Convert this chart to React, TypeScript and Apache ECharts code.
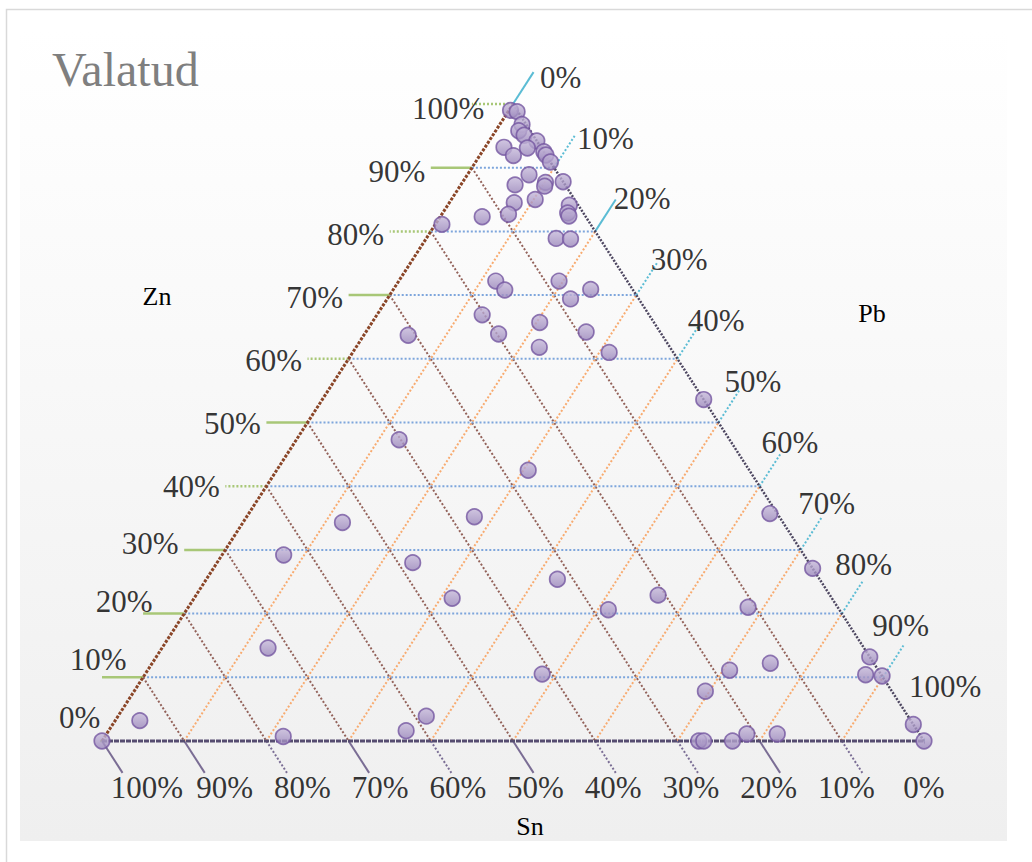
import React, { useEffect, useRef } from "react";
import * as echarts from "echarts";

// Composition of the cast samples, in percent (Zn + Pb + Sn = 100)
const zn = [
  99.0, 98.8, 96.8, 95.8, 95.1, 94.2, 93.2, 93.1, 91.9, 92.5, 92.0, 90.9, 88.9, 87.8, 87.7, 87.1,
  87.3, 85.0, 84.5, 84.1, 82.9, 82.4, 82.7, 82.3, 81.1, 78.9, 78.8, 72.2, 70.8, 72.2, 70.9, 69.4,
  66.9, 65.7, 63.9, 63.7, 64.2, 61.8, 61.0, 53.6, 47.3, 42.5, 35.2, 34.3, 35.7, 29.2, 28.0, 27.1,
  25.4, 22.4, 22.9, 20.6, 21.0, 14.6, 13.2, 12.2, 11.1, 10.4, 10.2, 10.5, 7.8, 3.2, 3.9, 1.6,
  2.6, 0, 0.7, 0, 0, 0, 1.1, 1.1, 0,
];
const pb = [
  0.2, 1.1, 2.7, 2.8, 3.8, 5.8, 2.3, 5.2, 4.1, 7.5, 8.0, 9.1, 7.5, 12.2, 10.1, 10.3,
  6.6, 10.2, 7.9, 14.8, 15.2, 15.6, 8.1, 5.1, 0.8, 15.8, 17.6, 11.8, 13.6, 19.5, 24.0, 22.3,
  12.8, 20.4, 16.3, 5.4, 26.8, 22.3, 31.2, 46.4, 12.5, 30.6, 27.7, 12.1, 63.4, 7.5, 23.8, 72.9,
  42.7, 31.4, 56.2, 51.3, 68.1, 12.9, 86.8, 75.2, 70.8, 87.7, 89.8, 48.3, 69.5, 3.0, 37.5, 36.2,
  97.4, 0, 21.7, 72.6, 73.2, 76.7, 77.9, 81.6, 100,
];
const sn = [
  0.8, 0.1, 0.5, 1.4, 1.1, 0, 4.5, 1.7, 4.0, 0, 0, 0, 3.6, 0, 2.2, 2.6,
  6.1, 4.8, 7.6, 1.1, 1.9, 2.0, 9.2, 12.6, 18.1, 5.3, 3.6, 16.0, 15.6, 8.3, 5.1, 8.3,
  20.3, 13.9, 19.8, 30.9, 9.0, 15.9, 7.8, 0, 40.2, 26.9, 37.1, 53.6, 0.9, 63.3, 48.2, 0,
  31.9, 46.2, 20.9, 28.1, 10.9, 72.5, 0, 12.6, 18.1, 1.9, 0, 41.2, 22.7, 93.8, 58.6, 62.2,
  0, 100, 77.6, 27.4, 26.8, 23.3, 21.0, 17.3, 0,
];

const tickValues = [0, 10, 20, 30, 40, 50, 60, 70, 80, 90, 100];
const gridValues = [10, 20, 30, 40, 50, 60, 70, 80, 90];

const SERIF = "'Liberation Serif', 'DejaVu Serif', serif";

// ternary (Zn, Pb) -> cartesian plane: x = Pb + Zn / 2, y = Zn
const toXY = (z: number, p: number): [number, number] => [p + z / 2, z];

type Dash = number[] | "solid";

function seg(a: [number, number], b: [number, number], color: string, width: number, dash: Dash, z = 1) {
  return {
    type: "line",
    data: [a, b],
    symbol: "none",
    silent: true,
    clip: false,
    z,
    lineStyle: { color, width, type: dash },
  };
}

function labelSeries(items: any[], fontSize: number) {
  return {
    type: "scatter",
    symbolSize: 1,
    clip: false,
    silent: true,
    z: 6,
    itemStyle: { color: "rgba(0,0,0,0)" },
    label: { show: true, color: "#000", fontFamily: SERIF, fontSize },
    data: items,
  };
}

export default function App() {
  const ref = useRef<HTMLDivElement>(null);

  useEffect(() => {
    if (!ref.current) return;
    const chart = echarts.init(ref.current, null, { renderer: "svg" });

    const DOT: number[] = [2, 2];
    const series: any[] = [];

    // interior grid
    gridValues.forEach((v) => {
      series.push(seg(toXY(v, 0), toXY(v, 100 - v), "#7ea6dc", 2, DOT));
      series.push(seg(toXY(0, v), toXY(100 - v, v), "#f8ab70", 2, DOT));
      series.push(seg(toXY(100 - v, 0), toXY(0, 100 - v), "#93625a", 2, DOT));
    });

    // triangle edges
    series.push(seg(toXY(0, 0), toXY(100, 0), "#8a4527", 3, [3, 1.5], 2));
    series.push(seg(toXY(0, 0), toXY(0, 100), "#564d70", 3, [5, 1], 2));
    series.push(seg(toXY(0, 100), toXY(100, 0), "#4d4660", 2.5, [2, 1.5], 2));

    // tick stubs
    const znSolid = [10, 20, 30, 50, 70, 90];
    const pbSolid = [0, 20, 100];
    const snSolid = [100, 90, 70, 50, 20, 0];
    tickValues.forEach((v) => {
      series.push(
        seg(toXY(v, 0), [v / 2 - 5, v], "#a8c777", 2.5, znSolid.includes(v) ? "solid" : DOT)
      );
      series.push(
        seg(toXY(100 - v, v), toXY(105 - v, v), "#5bbcd4", 2, pbSolid.includes(v) ? "solid" : DOT)
      );
      series.push(
        seg(toXY(0, 100 - v), toXY(-5, 105 - v), "#7a6d94", 2, snSolid.includes(v) ? "solid" : DOT)
      );
    });

    // tick labels
    const znLabels = tickValues.map((v) => ({
      value: [v / 2 - 5, v],
      label: {
        position: "left",
        distance: 5,
        formatter: v + "%",
        offset: [
          v <= 30 ? (30 - v) * 1.5 : v > 90 ? (v - 90) * 1.8 : 0,
          v < 40 ? -0.6 * (40 - v) : 0.08 * (v - 40),
        ],
      },
    }));
    const pbLabels = tickValues.map((v, k) => ({
      value: toXY(105 - v, v),
      label: {
        position: "right",
        distance: 0,
        formatter: v + "%",
        offset: [6 - 4.2 * k, 5 - 2.8 * k],
      },
    }));
    const snLabels = tickValues.map((v) => ({
      value: toXY(0, 100 - v),
      label: {
        position: "inside",
        formatter: v + "%",
        offset: [0.45 * v, 46],
      },
    }));
    series.push(labelSeries(znLabels, 31));
    series.push(labelSeries(pbLabels, 31));
    series.push(labelSeries(snLabels, 31));

    // samples
    series.push({
      type: "scatter",
      name: "Valatud",
      z: 10,
      clip: false,
      symbol: "circle",
      symbolSize: 15.5,
      itemStyle: {
        color: {
          type: "linear",
          x: 0,
          y: 0,
          x2: 0,
          y2: 1,
          colorStops: [
            { offset: 0, color: "#c6b9da" },
            { offset: 1, color: "#9a86bb" },
          ],
        },
        borderColor: "#7456a0",
        borderWidth: 1.7,
      },
      data: zn.map((z, i) => toXY(z, pb[i])),
    });

    chart.setOption({
      animation: false,
      backgroundColor: "#ffffff",
      grid: { left: 102, top: 104, width: 822, height: 637 },
      xAxis: { type: "value", min: 0, max: 100, show: false },
      yAxis: { type: "value", min: 0, max: 100, show: false },
      graphic: [
        {
          type: "rect",
          z: -10,
          silent: true,
          shape: { x: 20, y: 30, width: 987, height: 811 },
          style: {
            fill: {
              type: "linear",
              x: 0,
              y: 0,
              x2: 0,
              y2: 1,
              colorStops: [
                { offset: 0, color: "#ffffff" },
                { offset: 1, color: "#efefef" },
              ],
            },
          },
        },
        {
          type: "rect",
          z: -9,
          silent: true,
          shape: { x: 6.5, y: 9.5, width: 1040, height: 870 },
          style: { fill: "none", stroke: "#d9d9d9", lineWidth: 1.5 },
        },
        {
          type: "text",
          z: 20,
          x: 52,
          y: 69,
          style: {
            text: "Valatud",
            fill: "#7f7f7f",
            font: "48px " + SERIF,
            verticalAlign: "middle",
          },
        },
        {
          type: "text",
          z: 20,
          x: 157,
          y: 296,
          style: { text: "Zn", fill: "#000", font: "26px " + SERIF, align: "center", verticalAlign: "middle" },
        },
        {
          type: "text",
          z: 20,
          x: 872,
          y: 313,
          style: { text: "Pb", fill: "#000", font: "26px " + SERIF, align: "center", verticalAlign: "middle" },
        },
        {
          type: "text",
          z: 20,
          x: 530,
          y: 826,
          style: { text: "Sn", fill: "#000", font: "26px " + SERIF, align: "center", verticalAlign: "middle" },
        },
      ],
      series,
    });

    return () => chart.dispose();
  }, []);

  return (
    <div
      ref={ref}
      style={{ position: "absolute", left: 0, top: 0, width: 1032, height: 862 }}
    />
  );
}
